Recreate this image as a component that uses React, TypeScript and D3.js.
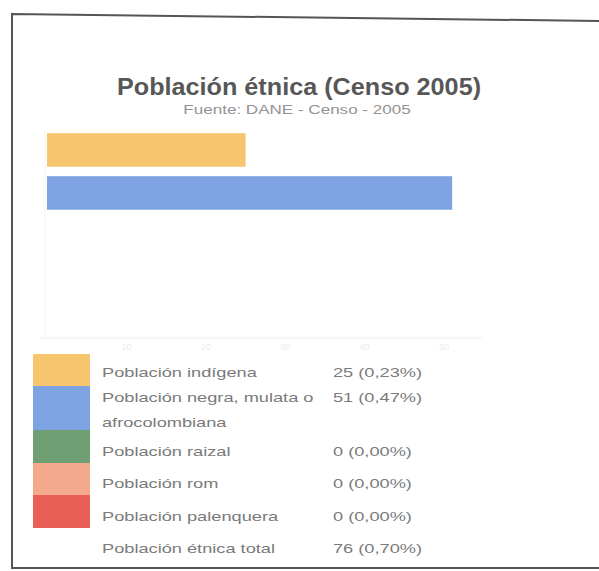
import React, { useEffect, useRef } from "react";
import * as d3 from "d3";

const categories = [
  "Población indígena",
  "Población negra, mulata o afrocolombiana",
  "Población raizal",
  "Población rom",
  "Población palenquera",
];
const values = [25, 51, 0, 0, 0];
const percents = ["0,23%", "0,47%", "0,00%", "0,00%", "0,00%"];
const colors = ["#f7c56d", "#7ea3e2", "#6f9f73", "#f5a98c", "#ea5f55"];
const totalLabel = "Población étnica total";
const totalValue = 76;
const totalPercent = "0,70%";
const axisTicks = [0, 10, 20, 30, 40, 50];
const title = "Población étnica (Censo 2005)";
const subtitle = "Fuente: DANE - Censo - 2005";

export default function App() {
  const ref = useRef<SVGSVGElement>(null);

  useEffect(() => {
    document.body.style.margin = "0";
    const svg = d3.select(ref.current);
    svg.selectAll("*").remove();

    svg.append("rect").attr("width", 599).attr("height", 571).attr("fill", "#ffffff");

    svg
      .append("path")
      .attr("d", "M605,21 L12,14 L12,568 L605,568")
      .attr("fill", "none")
      .attr("stroke", "#555")
      .attr("stroke-width", 2);

    const font = "'Liberation Sans', Arial, sans-serif";

    const stretch = (sel: d3.Selection<SVGTextElement, unknown, null, undefined>, factor: number) => {
      const node = sel.node();
      if (!node) return sel;
      const len = node.getComputedTextLength();
      sel.attr("textLength", len * factor).attr("lengthAdjust", "spacingAndGlyphs");
      return sel;
    };

    stretch(
      svg
        .append("text")
        .attr("x", 299)
        .attr("y", 95)
        .attr("text-anchor", "middle")
        .attr("font-family", font)
        .attr("font-weight", "bold")
        .attr("font-size", 24)
        .attr("fill", "#575757")
        .text(title),
      1.05
    );

    stretch(
      svg
        .append("text")
        .attr("x", 297)
        .attr("y", 114)
        .attr("text-anchor", "middle")
        .attr("font-family", font)
        .attr("font-size", 12)
        .attr("fill", "#939393")
        .text(subtitle),
      1.42
    );

    const x = d3.scaleLinear().domain([0, 54]).range([47, 476]);
    const barCats = categories.filter((_, i) => values[i] > 0);
    const y = d3
      .scaleBand<string>()
      .domain(categories)
      .range([131, 341])
      .paddingInner(0.22)
      .paddingOuter(0.05);

    const plot = svg.append("g");
    plot
      .append("line")
      .attr("x1", x(0) - 2)
      .attr("x2", x(0) - 2)
      .attr("y1", 130)
      .attr("y2", 338)
      .attr("stroke", "#f2f2f2");
    plot
      .append("line")
      .attr("x1", 40)
      .attr("x2", 482)
      .attr("y1", 338)
      .attr("y2", 338)
      .attr("stroke", "#eeeeee");
    plot
      .selectAll("text.tick")
      .data(axisTicks.slice(1))
      .join("text")
      .attr("class", "tick")
      .attr("x", (d) => x(d))
      .attr("y", 350)
      .attr("text-anchor", "middle")
      .attr("font-family", font)
      .attr("font-size", 9)
      .attr("fill", "#ececec")
      .text((d) => d);

    plot
      .selectAll("rect.bar")
      .data(barCats)
      .join("rect")
      .attr("class", "bar")
      .attr("x", x(0))
      .attr("y", (d) => y(d)!)
      .attr("height", y.bandwidth())
      .attr("width", (d) => x(values[categories.indexOf(d)]) - x(0))
      .attr("fill", (d) => colors[categories.indexOf(d)]);

    const rowTops = [354, 386, 430, 463, 495];
    const rowBottoms = [386, 430, 463, 495, 528];
    const textY = [[377], [402, 427], [456], [488], [521]];
    const lines = [["Población indígena"], ["Población negra, mulata o", "afrocolombiana"], ["Población raizal"], ["Población rom"], ["Población palenquera"]];
    const leg = svg.append("g");
    const legText = (xx: number, yy: number, t: string) =>
      stretch(
        leg
          .append("text")
          .attr("x", xx)
          .attr("y", yy)
          .attr("font-family", font)
          .attr("font-size", 13)
          .attr("fill", "#7a7a7a")
          .text(t),
        1.4
      );
    categories.forEach((c, i) => {
      leg
        .append("rect")
        .attr("x", 33)
        .attr("y", rowTops[i])
        .attr("width", 57)
        .attr("height", rowBottoms[i] - rowTops[i])
        .attr("fill", colors[i]);
      lines[i].forEach((l, j) => legText(102, textY[i][j], l));
      legText(333, textY[i][0], `${values[i]} (${percents[i]})`);
    });
    legText(102, 553, totalLabel);
    legText(333, 553, `${totalValue} (${totalPercent})`);
  }, []);

  return <svg ref={ref} width={599} height={571} style={{ display: "block" }} />;
}
